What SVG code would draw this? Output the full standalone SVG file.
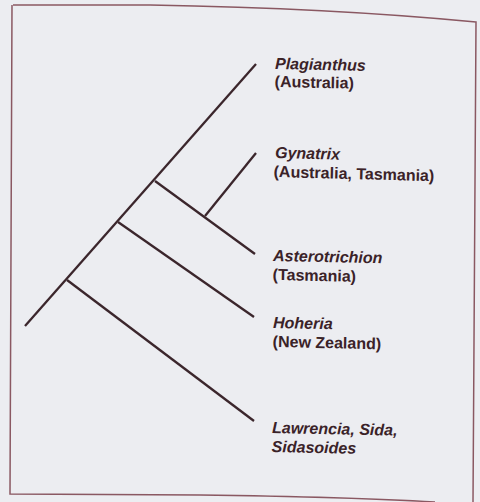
<svg xmlns="http://www.w3.org/2000/svg" width="480" height="502" viewBox="0 0 480 502">
<style>
.bg{fill:#ecedf1}
.frame{fill:none;stroke:#8a5862;stroke-width:1.5}
.br{fill:none;stroke:#3b262c;stroke-width:2.3;stroke-linecap:butt}
text{font-family:"Liberation Sans",Arial,sans-serif;font-size:16px;font-weight:bold;fill:#3a2228}
.g{font-style:italic}
</style>
<rect class="bg" x="0" y="0" width="480" height="502"/>
<path class="frame" d="M13,5 L150,5 Q330,8 476,22 L473,502 M12,5 L10,494 L200,495 Q350,497 435,502"/>
<g id="connectors">
<line class="br" x1="25" y1="326" x2="256" y2="64"/>
<line class="br" x1="67" y1="280" x2="254" y2="421"/>
<line class="br" x1="118" y1="222" x2="254" y2="317"/>
<line class="br" x1="155" y1="181" x2="255" y2="254"/>
<line class="br" x1="205" y1="216" x2="256" y2="153"/>
</g>
<g id="plagianthus" transform="rotate(1.2 275 69)">
<text class="g" x="275" y="69">Plagianthus</text>
<text x="275" y="87">(Australia)</text>
</g>
<g id="gynatrix" transform="rotate(1.5 275 158)">
<text class="g" x="275" y="158">Gynatrix</text>
<text x="274" y="177">(Australia, Tasmania)</text>
</g>
<g id="asterotrichion" transform="rotate(1.2 273 261)">
<text class="g" x="273" y="261">Asterotrichion</text>
<text x="273" y="280">(Tasmania)</text>
</g>
<g id="hoheria" transform="rotate(1.2 273 328)">
<text class="g" x="273" y="328">Hoheria</text>
<text x="273" y="347">(New Zealand)</text>
</g>
<g id="lawrencia" transform="rotate(1.2 272 433)">
<text class="g" x="272" y="433">Lawrencia, Sida,</text>
<text class="g" x="272" y="452">Sidasoides</text>
</g>
</svg>
